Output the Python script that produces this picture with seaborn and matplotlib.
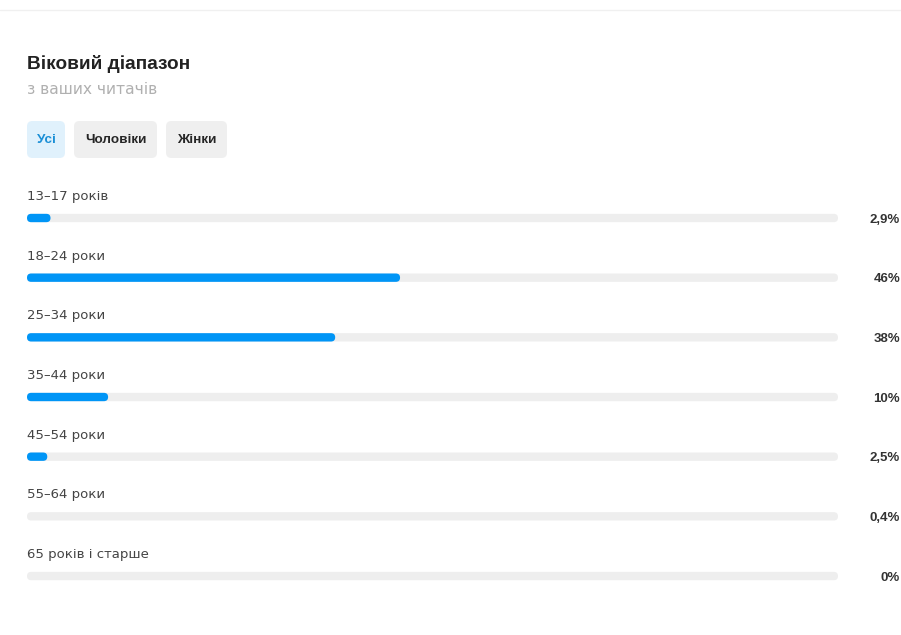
import matplotlib
matplotlib.use("Agg")
import matplotlib.pyplot as plt
import matplotlib.transforms as mtransforms
from matplotlib.patches import FancyBboxPatch
from matplotlib.lines import Line2D
import seaborn as sns
import pandas as pd

# ---- data ----
categories = ["13–17 років", "18–24 роки", "25–34 роки", "35–44 роки",
              "45–54 роки", "55–64 роки", "65 років і старше"]
values = [2.9, 46, 38, 10, 2.5, 0.4, 0]
value_labels = ["2,9%", "46%", "38%", "10%", "2,5%", "0,4%", "0%"]
title = "Віковий діапазон"
subtitle = "з ваших читачів"
tabs = ["Усі", "Чоловіки", "Жінки"]

W, H = 901, 635
sns.set_theme(style="white")
plt.rcParams["font.family"] = ["Liberation Sans", "DejaVu Sans"]
WIDE = ["DejaVu Sans"]

fig = plt.figure(figsize=(W / 100, H / 100), dpi=100)
fig.patch.set_facecolor("white")

def fx(px):
    return px / W

def fy(py):
    return 1 - py / H

# axes over track area
top_px, step = 218, 59.67
y0 = top_px - step / 2
y1 = top_px + step * 6 + step / 2
ax = fig.add_axes([fx(27), fy(y1), fx(838) - fx(27), (y1 - y0) / H])
ax.set_facecolor("none")

df = pd.DataFrame({"cat": categories, "val": values, "track": [100] * len(values)})
bar_h = 0.14
sns.barplot(data=df, y="cat", x="track", color="#eeeeee", saturation=1,
            width=bar_h, ax=ax, orient="h")
sns.barplot(data=df, y="cat", x="val", color="#0095f6", saturation=1,
            width=bar_h, ax=ax, orient="h")
ax.set_xlim(0, 100)
ax.set_ylim(6.5, -0.5)
ax.axis("off")

# round the bars (very short fills are not visible in the app)
fig.canvas.draw()
patches = list(ax.patches)
for i, p in enumerate(patches):
    bb = p.get_window_extent()
    p.remove()
    if bb.width < bb.height:
        continue
    r = bb.height / 2
    fb = FancyBboxPatch((bb.x0, bb.y0), bb.width, bb.height,
                        boxstyle=f"round,pad=0,rounding_size={r}",
                        transform=None, facecolor=p.get_facecolor(),
                        edgecolor="none", zorder=2 if i >= len(values) else 1)
    fig.add_artist(fb)

# labels
trans_left = mtransforms.blended_transform_factory(fig.transFigure, ax.transData)
for i, (c, lab) in enumerate(zip(categories, value_labels)):
    ax.text(fx(27), i - 0.36, c, transform=trans_left, ha="left", va="center",
            fontsize=9.5, color="#444444", family=WIDE)
    ax.text(fx(900), i + 0.03, lab, transform=trans_left, ha="right", va="center",
            fontsize=9.5, color="#333333", fontweight="bold")

# header
fig.add_artist(Line2D([0, 1], [fy(10), fy(10)], color="#f0f0f0", lw=1))
fig.text(fx(27), fy(64), title, ha="left", va="center", fontsize=13.7,
         fontweight="bold", color="#222222")
fig.text(fx(27), fy(90), subtitle, ha="left", va="center", fontsize=11.2,
         color="#b0b0b0", family=WIDE)

tab_boxes = [(27, 65), (74, 157), (166, 227)]
for k, (t, (a, b)) in enumerate(zip(tabs, tab_boxes)):
    bg = "#e0f1fc" if k == 0 else "#efefef"
    tc = "#1a8fd6" if k == 0 else "#262626"
    box = FancyBboxPatch((fx(a), fy(158)), fx(b) - fx(a), (158 - 121) / H,
                         boxstyle="round,pad=0,rounding_size=0.006",
                         transform=fig.transFigure, facecolor=bg,
                         edgecolor="none", mutation_aspect=W / H)
    fig.add_artist(box)
    fig.text(fx((a + b) / 2), fy(140), t, ha="center", va="center",
             fontsize=9.7, fontweight="bold", color=tc)

fig.savefig("out.png", dpi=100, facecolor="white")
